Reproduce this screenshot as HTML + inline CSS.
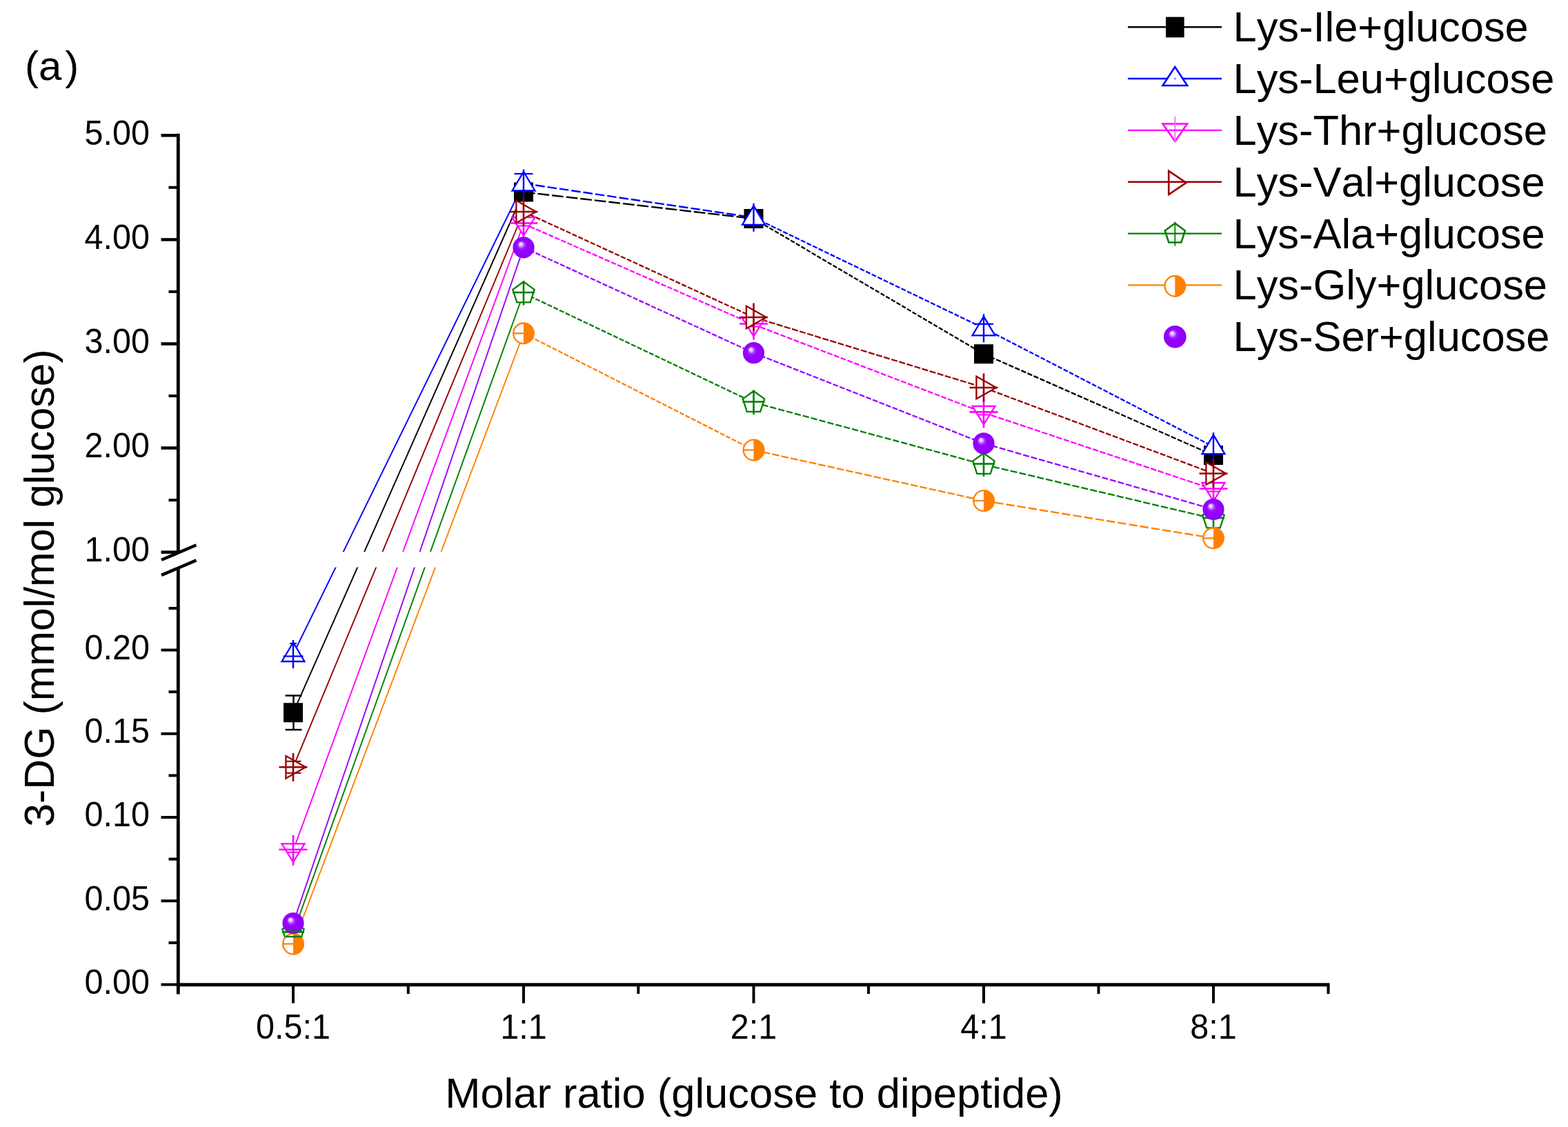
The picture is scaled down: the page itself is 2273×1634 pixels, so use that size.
<!DOCTYPE html>
<html><head><meta charset="utf-8"><title>3-DG chart</title>
<style>
html,body{margin:0;padding:0;background:#fff;}
body{width:2273px;height:1634px;overflow:hidden;}
svg{display:block;}
text{font-family:"Liberation Sans", Arial, sans-serif;fill:#000;font-kerning:none;font-feature-settings:"kern" 0;}
</style></head><body>
<svg width="2273" height="1634" viewBox="0 0 2273 1634">
<defs>
<radialGradient id="sph" cx="0.5" cy="0.5" r="0.5" fx="0.35" fy="0.32">
<stop offset="0" stop-color="#ffffff"/>
<stop offset="0.14" stop-color="#e6c0ff"/>
<stop offset="0.34" stop-color="#a020ff"/>
<stop offset="0.5" stop-color="#9900ff"/>
<stop offset="1" stop-color="#8c00f5"/>
</radialGradient>
<clipPath id="gap"><path d="M0,0 H2273 V800 H0 Z M0,822.5 H2273 V1634 H0 Z"/></clipPath>
</defs>
<rect width="2273" height="1634" fill="#fff"/>

<g clip-path="url(#gap)" fill="none" stroke-width="1.9" stroke-linecap="butt">
<line x1="425" y1="1033.2" x2="759" y2="278.5" stroke="#000000"/>
<line x1="759" y1="278.5" x2="1092.5" y2="317.0" stroke="#000000" stroke-dasharray="16.7 4.0" stroke-width="2.4"/>
<line x1="1092.5" y1="317.0" x2="1426" y2="513.2" stroke="#000000" stroke-dasharray="6.4 2.5" stroke-width="2.3"/>
<line x1="1426" y1="513.2" x2="1759" y2="660.0" stroke="#000000" stroke-dasharray="7.4 2.5" stroke-width="2.3"/>
<line x1="425" y1="948.5" x2="759" y2="266.0" stroke="#0000FF"/>
<line x1="759" y1="266.0" x2="1092.5" y2="315.3" stroke="#0000FF" stroke-dasharray="13.5 4.0" stroke-width="2.4"/>
<line x1="1092.5" y1="315.3" x2="1426" y2="475.8" stroke="#0000FF" stroke-dasharray="7.0 2.5" stroke-width="2.3"/>
<line x1="1426" y1="475.8" x2="1759" y2="647.6" stroke="#0000FF" stroke-dasharray="6.8 2.5" stroke-width="2.3"/>
<line x1="425" y1="1232.8" x2="759" y2="324.5" stroke="#FF00FF"/>
<line x1="759" y1="324.5" x2="1092.5" y2="470.5" stroke="#FF00FF" stroke-dasharray="7.4 2.5" stroke-width="2.3"/>
<line x1="1092.5" y1="470.5" x2="1426" y2="598.4" stroke="#FF00FF" stroke-dasharray="7.9 2.5" stroke-width="2.3"/>
<line x1="1426" y1="598.4" x2="1759" y2="709.5" stroke="#FF00FF" stroke-dasharray="8.6 2.5" stroke-width="2.3"/>
<line x1="425" y1="1112.3" x2="759" y2="307.0" stroke="#990000"/>
<line x1="759" y1="307.0" x2="1092.5" y2="460.0" stroke="#990000" stroke-dasharray="7.2 2.5" stroke-width="2.3"/>
<line x1="1092.5" y1="460.0" x2="1426" y2="562.0" stroke="#990000" stroke-dasharray="9.1 2.5" stroke-width="2.3"/>
<line x1="1426" y1="562.0" x2="1759" y2="686.5" stroke="#990000" stroke-dasharray="8.0 2.5" stroke-width="2.3"/>
<line x1="425" y1="1352.4" x2="759" y2="425.0" stroke="#008000"/>
<line x1="759" y1="425.0" x2="1092.5" y2="583.5" stroke="#008000" stroke-dasharray="7.1 2.5" stroke-width="2.3"/>
<line x1="1092.5" y1="583.5" x2="1426" y2="673.5" stroke="#008000" stroke-dasharray="9.3 3.0" stroke-width="2.3"/>
<line x1="1426" y1="673.5" x2="1759" y2="752.0" stroke="#008000" stroke-dasharray="10.2 3.0" stroke-width="2.3"/>
<line x1="425" y1="1368.5" x2="759" y2="483.3" stroke="#FF8000"/>
<line x1="759" y1="483.3" x2="1092.5" y2="652.5" stroke="#FF8000" stroke-dasharray="6.9 2.5" stroke-width="2.3"/>
<line x1="1092.5" y1="652.5" x2="1426" y2="726.0" stroke="#FF8000" stroke-dasharray="10.7 3.0" stroke-width="2.3"/>
<line x1="1426" y1="726.0" x2="1759" y2="780.3" stroke="#FF8000" stroke-dasharray="12.4 4.0" stroke-width="2.4"/>
<line x1="425" y1="1338.5" x2="759" y2="358.8" stroke="#9900FF"/>
<line x1="759" y1="358.8" x2="1092.5" y2="511.7" stroke="#9900FF" stroke-dasharray="7.2 2.5" stroke-width="2.3"/>
<line x1="1092.5" y1="511.7" x2="1426" y2="642.9" stroke="#9900FF" stroke-dasharray="7.8 2.5" stroke-width="2.3"/>
<line x1="1426" y1="642.9" x2="1759" y2="738.5" stroke="#9900FF" stroke-dasharray="8.9 3.0" stroke-width="2.3"/>
</g>
<g stroke="#000" stroke-width="2.5"><line x1="425.5" y1="1008.5" x2="425.5" y2="1058"/><line x1="413.5" y1="1008.5" x2="437.5" y2="1008.5"/><line x1="413.5" y1="1058" x2="437.5" y2="1058"/></g>
<rect x="411.0" y="1019.2" width="28.0" height="28.0" fill="#000000"/>

<rect x="745.0" y="264.5" width="28.0" height="28.0" fill="#000000"/>

<rect x="1078.5" y="303.0" width="28.0" height="28.0" fill="#000000"/>

<rect x="1412.0" y="499.2" width="28.0" height="28.0" fill="#000000"/>

<rect x="1745.0" y="646.0" width="28.0" height="28.0" fill="#000000"/>

<polygon points="425.0,931.5 408.5,959.0 441.5,959.0" fill="#fff" stroke="#0000FF" stroke-width="2.3" stroke-linejoin="miter"/>
<line x1="425.0" y1="928.0" x2="425.0" y2="969.0" stroke="#0000FF" stroke-width="2.4"/>
<line x1="420.0" y1="933.0" x2="430.0" y2="933.0" stroke="#0000FF" stroke-width="2.2"/>
<line x1="410.5" y1="951.5" x2="439.5" y2="951.5" stroke="#0000FF" stroke-width="2.2"/>
<polygon points="759.0,249.0 742.5,276.5 775.5,276.5" fill="#fff" stroke="#0000FF" stroke-width="2.3" stroke-linejoin="miter"/>
<line x1="759.0" y1="245.5" x2="759.0" y2="286.5" stroke="#0000FF" stroke-width="2.4"/>
<line x1="745.5" y1="252.0" x2="772.5" y2="252.0" stroke="#0000FF" stroke-width="2.2"/>
<polygon points="1092.5,298.3 1076.0,325.8 1109.0,325.8" fill="#fff" stroke="#0000FF" stroke-width="2.3" stroke-linejoin="miter"/>
<line x1="1092.5" y1="294.8" x2="1092.5" y2="335.8" stroke="#0000FF" stroke-width="2.4"/>
<polygon points="1426.0,458.8 1409.5,486.3 1442.5,486.3" fill="#fff" stroke="#0000FF" stroke-width="2.3" stroke-linejoin="miter"/>
<line x1="1426.0" y1="455.3" x2="1426.0" y2="496.3" stroke="#0000FF" stroke-width="2.4"/>
<line x1="1412.0" y1="469.8" x2="1440.0" y2="469.8" stroke="#0000FF" stroke-width="2.2"/>
<polygon points="1759.0,630.6 1742.5,658.1 1775.5,658.1" fill="#fff" stroke="#0000FF" stroke-width="2.3" stroke-linejoin="miter"/>
<line x1="1759.0" y1="627.1" x2="1759.0" y2="668.1" stroke="#0000FF" stroke-width="2.4"/>
<polygon points="408.5,1223.3 441.5,1223.3 425.0,1249.8" fill="#fff" stroke="#FF00FF" stroke-width="2.3" stroke-linejoin="miter"/>
<line x1="425.0" y1="1210.8" x2="425.0" y2="1254.8" stroke="#FF00FF" stroke-width="2.6"/>
<line x1="404.5" y1="1231.8" x2="445.5" y2="1231.8" stroke="#FF00FF" stroke-width="2.6"/>
<line x1="415.5" y1="1235.8" x2="434.5" y2="1235.8" stroke="#FF00FF" stroke-width="2"/>
<polygon points="742.5,315.0 775.5,315.0 759.0,341.5" fill="#fff" stroke="#FF00FF" stroke-width="2.3" stroke-linejoin="miter"/>
<line x1="759.0" y1="302.5" x2="759.0" y2="346.5" stroke="#FF00FF" stroke-width="2.6"/>
<line x1="738.5" y1="323.5" x2="779.5" y2="323.5" stroke="#FF00FF" stroke-width="2.6"/>
<line x1="749.5" y1="327.5" x2="768.5" y2="327.5" stroke="#FF00FF" stroke-width="2"/>
<polygon points="1076.0,461.0 1109.0,461.0 1092.5,487.5" fill="#fff" stroke="#FF00FF" stroke-width="2.3" stroke-linejoin="miter"/>
<line x1="1092.5" y1="448.5" x2="1092.5" y2="492.5" stroke="#FF00FF" stroke-width="2.6"/>
<line x1="1072.0" y1="469.5" x2="1113.0" y2="469.5" stroke="#FF00FF" stroke-width="2.6"/>
<line x1="1083.0" y1="473.5" x2="1102.0" y2="473.5" stroke="#FF00FF" stroke-width="2"/>
<polygon points="1409.5,588.9 1442.5,588.9 1426.0,615.4" fill="#fff" stroke="#FF00FF" stroke-width="2.3" stroke-linejoin="miter"/>
<line x1="1426.0" y1="576.4" x2="1426.0" y2="620.4" stroke="#FF00FF" stroke-width="2.6"/>
<line x1="1405.5" y1="597.4" x2="1446.5" y2="597.4" stroke="#FF00FF" stroke-width="2.6"/>
<line x1="1416.5" y1="601.4" x2="1435.5" y2="601.4" stroke="#FF00FF" stroke-width="2"/>
<polygon points="1742.5,700.0 1775.5,700.0 1759.0,726.5" fill="#fff" stroke="#FF00FF" stroke-width="2.3" stroke-linejoin="miter"/>
<line x1="1759.0" y1="687.5" x2="1759.0" y2="731.5" stroke="#FF00FF" stroke-width="2.6"/>
<line x1="1738.5" y1="708.5" x2="1779.5" y2="708.5" stroke="#FF00FF" stroke-width="2.6"/>
<line x1="1749.5" y1="712.5" x2="1768.5" y2="712.5" stroke="#FF00FF" stroke-width="2"/>
<polygon points="414.4,1096.1 443.2,1112.3 414.4,1128.5" fill="#fff" stroke="#990000" stroke-width="2.3" stroke-linejoin="miter"/>
<line x1="425.0" y1="1091.8" x2="425.0" y2="1132.8" stroke="#990000" stroke-width="2.6"/>
<line x1="404.5" y1="1112.3" x2="445.5" y2="1112.3" stroke="#990000" stroke-width="2.6"/>
<line x1="414.5" y1="1103.8" x2="436.5" y2="1103.8" stroke="#990000" stroke-width="2.1"/>
<line x1="414.5" y1="1120.8" x2="436.5" y2="1120.8" stroke="#990000" stroke-width="2.1"/>
<polygon points="748.4,290.8 777.2,307.0 748.4,323.2" fill="#fff" stroke="#990000" stroke-width="2.3" stroke-linejoin="miter"/>
<line x1="759.0" y1="286.5" x2="759.0" y2="327.5" stroke="#990000" stroke-width="2.6"/>
<line x1="738.5" y1="307.0" x2="779.5" y2="307.0" stroke="#990000" stroke-width="2.6"/>
<polygon points="1081.9,443.8 1110.7,460.0 1081.9,476.2" fill="#fff" stroke="#990000" stroke-width="2.3" stroke-linejoin="miter"/>
<line x1="1092.5" y1="439.5" x2="1092.5" y2="480.5" stroke="#990000" stroke-width="2.6"/>
<line x1="1072.0" y1="460.0" x2="1113.0" y2="460.0" stroke="#990000" stroke-width="2.6"/>
<polygon points="1415.4,545.8 1444.2,562.0 1415.4,578.2" fill="#fff" stroke="#990000" stroke-width="2.3" stroke-linejoin="miter"/>
<line x1="1426.0" y1="541.5" x2="1426.0" y2="582.5" stroke="#990000" stroke-width="2.6"/>
<line x1="1405.5" y1="562.0" x2="1446.5" y2="562.0" stroke="#990000" stroke-width="2.6"/>
<polygon points="1748.4,670.3 1777.2,686.5 1748.4,702.7" fill="#fff" stroke="#990000" stroke-width="2.3" stroke-linejoin="miter"/>
<line x1="1759.0" y1="666.0" x2="1759.0" y2="707.0" stroke="#990000" stroke-width="2.6"/>
<line x1="1738.5" y1="686.5" x2="1779.5" y2="686.5" stroke="#990000" stroke-width="2.6"/>
<polygon points="425.0,1335.9 440.7,1347.3 434.7,1365.7 415.3,1365.7 409.3,1347.3" fill="#fff" stroke="#008000" stroke-width="2.3"/>
<line x1="425.0" y1="1334.4" x2="425.0" y2="1369.9" stroke="#008000" stroke-width="2.6"/>
<line x1="409.0" y1="1351.4" x2="441.0" y2="1351.4" stroke="#008000" stroke-width="2.6"/>
<polygon points="759.0,408.5 774.7,419.9 768.7,438.3 749.3,438.3 743.3,419.9" fill="#fff" stroke="#008000" stroke-width="2.3"/>
<line x1="759.0" y1="407.0" x2="759.0" y2="442.5" stroke="#008000" stroke-width="2.6"/>
<line x1="743.0" y1="424.0" x2="775.0" y2="424.0" stroke="#008000" stroke-width="2.6"/>
<polygon points="1092.5,567.0 1108.2,578.4 1102.2,596.8 1082.8,596.8 1076.8,578.4" fill="#fff" stroke="#008000" stroke-width="2.3"/>
<line x1="1092.5" y1="565.5" x2="1092.5" y2="601.0" stroke="#008000" stroke-width="2.6"/>
<line x1="1076.5" y1="582.5" x2="1108.5" y2="582.5" stroke="#008000" stroke-width="2.6"/>
<polygon points="1426.0,657.0 1441.7,668.4 1435.7,686.8 1416.3,686.8 1410.3,668.4" fill="#fff" stroke="#008000" stroke-width="2.3"/>
<line x1="1426.0" y1="655.5" x2="1426.0" y2="691.0" stroke="#008000" stroke-width="2.6"/>
<line x1="1410.0" y1="672.5" x2="1442.0" y2="672.5" stroke="#008000" stroke-width="2.6"/>
<polygon points="1759.0,735.5 1774.7,746.9 1768.7,765.3 1749.3,765.3 1743.3,746.9" fill="#fff" stroke="#008000" stroke-width="2.3"/>
<line x1="1759.0" y1="734.0" x2="1759.0" y2="769.5" stroke="#008000" stroke-width="2.6"/>
<line x1="1743.0" y1="751.0" x2="1775.0" y2="751.0" stroke="#008000" stroke-width="2.6"/>
<circle cx="425.0" cy="1368.5" r="14.8" fill="#fff" stroke="#FF8000" stroke-width="2.3"/>
<path d="M425.0,1352.5 A16.0,16.0 0 0 1 425.0,1384.5 Z" fill="#FF8000"/>
<line x1="411.0" y1="1368.5" x2="425.0" y2="1368.5" stroke="#FF8000" stroke-width="2.2"/>
<circle cx="759.0" cy="483.3" r="14.8" fill="#fff" stroke="#FF8000" stroke-width="2.3"/>
<path d="M759.0,467.4 A16.0,16.0 0 0 1 759.0,499.2 Z" fill="#FF8000"/>
<line x1="745.0" y1="483.3" x2="759.0" y2="483.3" stroke="#FF8000" stroke-width="2.2"/>
<circle cx="1092.5" cy="652.5" r="14.8" fill="#fff" stroke="#FF8000" stroke-width="2.3"/>
<path d="M1092.5,636.5 A16.0,16.0 0 0 1 1092.5,668.5 Z" fill="#FF8000"/>
<line x1="1078.5" y1="652.5" x2="1092.5" y2="652.5" stroke="#FF8000" stroke-width="2.2"/>
<circle cx="1426.0" cy="726.0" r="14.8" fill="#fff" stroke="#FF8000" stroke-width="2.3"/>
<path d="M1426.0,710.0 A16.0,16.0 0 0 1 1426.0,742.0 Z" fill="#FF8000"/>
<line x1="1412.0" y1="726.0" x2="1426.0" y2="726.0" stroke="#FF8000" stroke-width="2.2"/>
<circle cx="1759.0" cy="780.3" r="14.8" fill="#fff" stroke="#FF8000" stroke-width="2.3"/>
<path d="M1759.0,764.3 A16.0,16.0 0 0 1 1759.0,796.2 Z" fill="#FF8000"/>
<line x1="1745.0" y1="780.3" x2="1759.0" y2="780.3" stroke="#FF8000" stroke-width="2.2"/>
<circle cx="425.0" cy="1338.5" r="15.6" fill="url(#sph)"/>

<circle cx="759.0" cy="358.8" r="15.6" fill="url(#sph)"/>

<circle cx="1092.5" cy="511.7" r="15.6" fill="url(#sph)"/>

<circle cx="1426.0" cy="642.9" r="15.6" fill="url(#sph)"/>

<circle cx="1759.0" cy="738.5" r="15.6" fill="url(#sph)"/>

<g stroke="#008000" stroke-width="2.4"><line x1="414" y1="1350" x2="438" y2="1350"/><line x1="414" y1="1358" x2="438" y2="1358"/></g>
<g stroke="#000" fill="none" stroke-linecap="butt">
<line x1="258.3" y1="193.8" x2="258.3" y2="801" stroke-width="4.8"/>
<line x1="258.3" y1="823" x2="258.3" y2="1441.5" stroke-width="4.8"/>
<line x1="255.9" y1="1427.8" x2="1927.5" y2="1427.8" stroke-width="5"/>
<line x1="233.5" y1="800.6" x2="258.3" y2="800.6" stroke-width="4.5"/>
<line x1="233.5" y1="649.5" x2="258.3" y2="649.5" stroke-width="4.5"/>
<line x1="233.5" y1="498.5" x2="258.3" y2="498.5" stroke-width="4.5"/>
<line x1="233.5" y1="347.4" x2="258.3" y2="347.4" stroke-width="4.5"/>
<line x1="233.5" y1="196.3" x2="258.3" y2="196.3" stroke-width="4.5"/>
<line x1="244.5" y1="725.1" x2="258.3" y2="725.1" stroke-width="4"/>
<line x1="244.5" y1="574.0" x2="258.3" y2="574.0" stroke-width="4"/>
<line x1="244.5" y1="422.9" x2="258.3" y2="422.9" stroke-width="4"/>
<line x1="244.5" y1="271.8" x2="258.3" y2="271.8" stroke-width="4"/>
<line x1="233.5" y1="1427.5" x2="258.3" y2="1427.5" stroke-width="4"/>
<line x1="233.5" y1="1306.2" x2="258.3" y2="1306.2" stroke-width="4"/>
<line x1="233.5" y1="1185.0" x2="258.3" y2="1185.0" stroke-width="4"/>
<line x1="233.5" y1="1063.8" x2="258.3" y2="1063.8" stroke-width="4"/>
<line x1="233.5" y1="942.5" x2="258.3" y2="942.5" stroke-width="4"/>
<line x1="244.5" y1="1366.9" x2="258.3" y2="1366.9" stroke-width="4"/>
<line x1="244.5" y1="1245.6" x2="258.3" y2="1245.6" stroke-width="4"/>
<line x1="244.5" y1="1124.4" x2="258.3" y2="1124.4" stroke-width="4"/>
<line x1="244.5" y1="1003.1" x2="258.3" y2="1003.1" stroke-width="4"/>
<line x1="244.5" y1="881.9" x2="258.3" y2="881.9" stroke-width="4"/>
<line x1="425" y1="1427.8" x2="425" y2="1454.5" stroke-width="4"/>
<line x1="759" y1="1427.8" x2="759" y2="1454.5" stroke-width="4"/>
<line x1="1092.5" y1="1427.8" x2="1092.5" y2="1454.5" stroke-width="4"/>
<line x1="1426" y1="1427.8" x2="1426" y2="1454.5" stroke-width="4"/>
<line x1="1759" y1="1427.8" x2="1759" y2="1454.5" stroke-width="4"/>
<line x1="591.8" y1="1427.8" x2="591.8" y2="1441" stroke-width="4"/>
<line x1="925.3" y1="1427.8" x2="925.3" y2="1441" stroke-width="4"/>
<line x1="1259" y1="1427.8" x2="1259" y2="1441" stroke-width="4"/>
<line x1="1592.5" y1="1427.8" x2="1592.5" y2="1441" stroke-width="4"/>
<line x1="1925.5" y1="1427.8" x2="1925.5" y2="1441" stroke-width="4"/>
</g>
<g stroke="#000" stroke-width="4.5" fill="none"><line x1="234" y1="811.8" x2="284.5" y2="790.3"/><line x1="234" y1="833.9" x2="284.5" y2="812.4"/></g>
<text transform="translate(217,209.6) scale(1,1.035)" font-size="48.5" text-anchor="end">5.00</text>
<text transform="translate(217,360.7) scale(1,1.035)" font-size="48.5" text-anchor="end">4.00</text>
<text transform="translate(217,511.8) scale(1,1.035)" font-size="48.5" text-anchor="end">3.00</text>
<text transform="translate(217,662.8) scale(1,1.035)" font-size="48.5" text-anchor="end">2.00</text>
<text transform="translate(217,813.9) scale(1,1.035)" font-size="48.5" text-anchor="end">1.00</text>
<text transform="translate(217,955.8) scale(1,1.035)" font-size="48.5" text-anchor="end">0.20</text>
<text transform="translate(217,1077.0) scale(1,1.035)" font-size="48.5" text-anchor="end">0.15</text>
<text transform="translate(217,1198.3) scale(1,1.035)" font-size="48.5" text-anchor="end">0.10</text>
<text transform="translate(217,1319.5) scale(1,1.035)" font-size="48.5" text-anchor="end">0.05</text>
<text transform="translate(217,1440.8) scale(1,1.035)" font-size="48.5" text-anchor="end">0.00</text>
<text transform="translate(425,1506) scale(1,1.035)" font-size="48.5" text-anchor="middle">0.5:1</text>
<text transform="translate(759,1506) scale(1,1.035)" font-size="48.5" text-anchor="middle">1:1</text>
<text transform="translate(1092.5,1506) scale(1,1.035)" font-size="48.5" text-anchor="middle">2:1</text>
<text transform="translate(1426,1506) scale(1,1.035)" font-size="48.5" text-anchor="middle">4:1</text>
<text transform="translate(1759,1506) scale(1,1.035)" font-size="48.5" text-anchor="middle">8:1</text>
<text x="1093" y="1606" font-size="61.5" text-anchor="middle">Molar ratio (glucose to dipeptide)</text>
<text transform="translate(77.9,852.5) rotate(-90)" x="0" y="0" font-size="60.8" text-anchor="middle">3-DG (mmol/mol glucose)</text>
<text x="36" y="116" font-size="60">(a<tspan dx="5">)</tspan></text>
<line x1="1635" y1="39.2" x2="1771" y2="39.2" stroke="#000000" stroke-width="2.4"/>
<rect x="1690.0" y="24.6" width="26.6" height="29.7" fill="#000000"/>
<text x="1787.5" y="60.2" font-size="61.4">Lys-Ile+glucose</text>
<line x1="1635" y1="114.0" x2="1771" y2="114.0" stroke="#0000FF" stroke-width="2.4"/>
<polygon points="1703.3,97.0 1685.5,124.0 1721.1,124.0" fill="#fff" stroke="#0000FF" stroke-width="2.6"/>
<rect x="1702.1" y="112.8" width="2.4" height="2.4" fill="#0000FF" opacity="0.6"/>
<text x="1787.5" y="135.1" font-size="61.4">Lys-Leu+glucose</text>
<polygon points="1685.6,179.5 1721.0,179.5 1703.3,204.9" fill="#fff" stroke="#FF00FF" stroke-width="2.6"/>
<line x1="1703.3" y1="168.9" x2="1703.3" y2="205.9" stroke="#ff70ff" stroke-width="2"/>
<line x1="1635" y1="188.9" x2="1771" y2="188.9" stroke="#FF00FF" stroke-width="2.4"/>
<text x="1787.5" y="209.9" font-size="61.4">Lys-Thr+glucose</text>
<polygon points="1694.2,247.8 1719.5,264.9 1694.2,282.1" fill="#fff" stroke="#990000" stroke-width="2.6"/>
<line x1="1635" y1="263.8" x2="1771" y2="263.8" stroke="#990000" stroke-width="2.4"/>
<text x="1787.5" y="284.8" font-size="61.4">Lys-Val+glucose</text>
<polygon points="1703.3,323.8 1717.9,334.4 1712.3,351.5 1694.3,351.5 1688.7,334.4" fill="#fff" stroke="#008000" stroke-width="2.6"/>
<line x1="1635" y1="338.6" x2="1771" y2="338.6" stroke="#008000" stroke-width="2.4"/>
<line x1="1703.3" y1="321.6" x2="1703.3" y2="356.6" stroke="#008000" stroke-width="1.8"/>
<text x="1787.5" y="359.6" font-size="61.4">Lys-Ala+glucose</text>
<line x1="1635" y1="413.4" x2="1771" y2="413.4" stroke="#FF8000" stroke-width="2.4"/>
<circle cx="1703.3" cy="414.8" r="14.8" fill="#fff" stroke="#FF8000" stroke-width="2.3"/>
<path d="M1703.3,398.9 A16.0,16.0 0 0 1 1703.3,430.8 Z" fill="#FF8000"/>
<text x="1787.5" y="434.4" font-size="61.4">Lys-Gly+glucose</text>
<circle cx="1703.3" cy="488.3" r="16.3" fill="url(#sph)"/>
<text x="1787.5" y="509.3" font-size="61.4">Lys-Ser+glucose</text>
</svg>
</body></html>
